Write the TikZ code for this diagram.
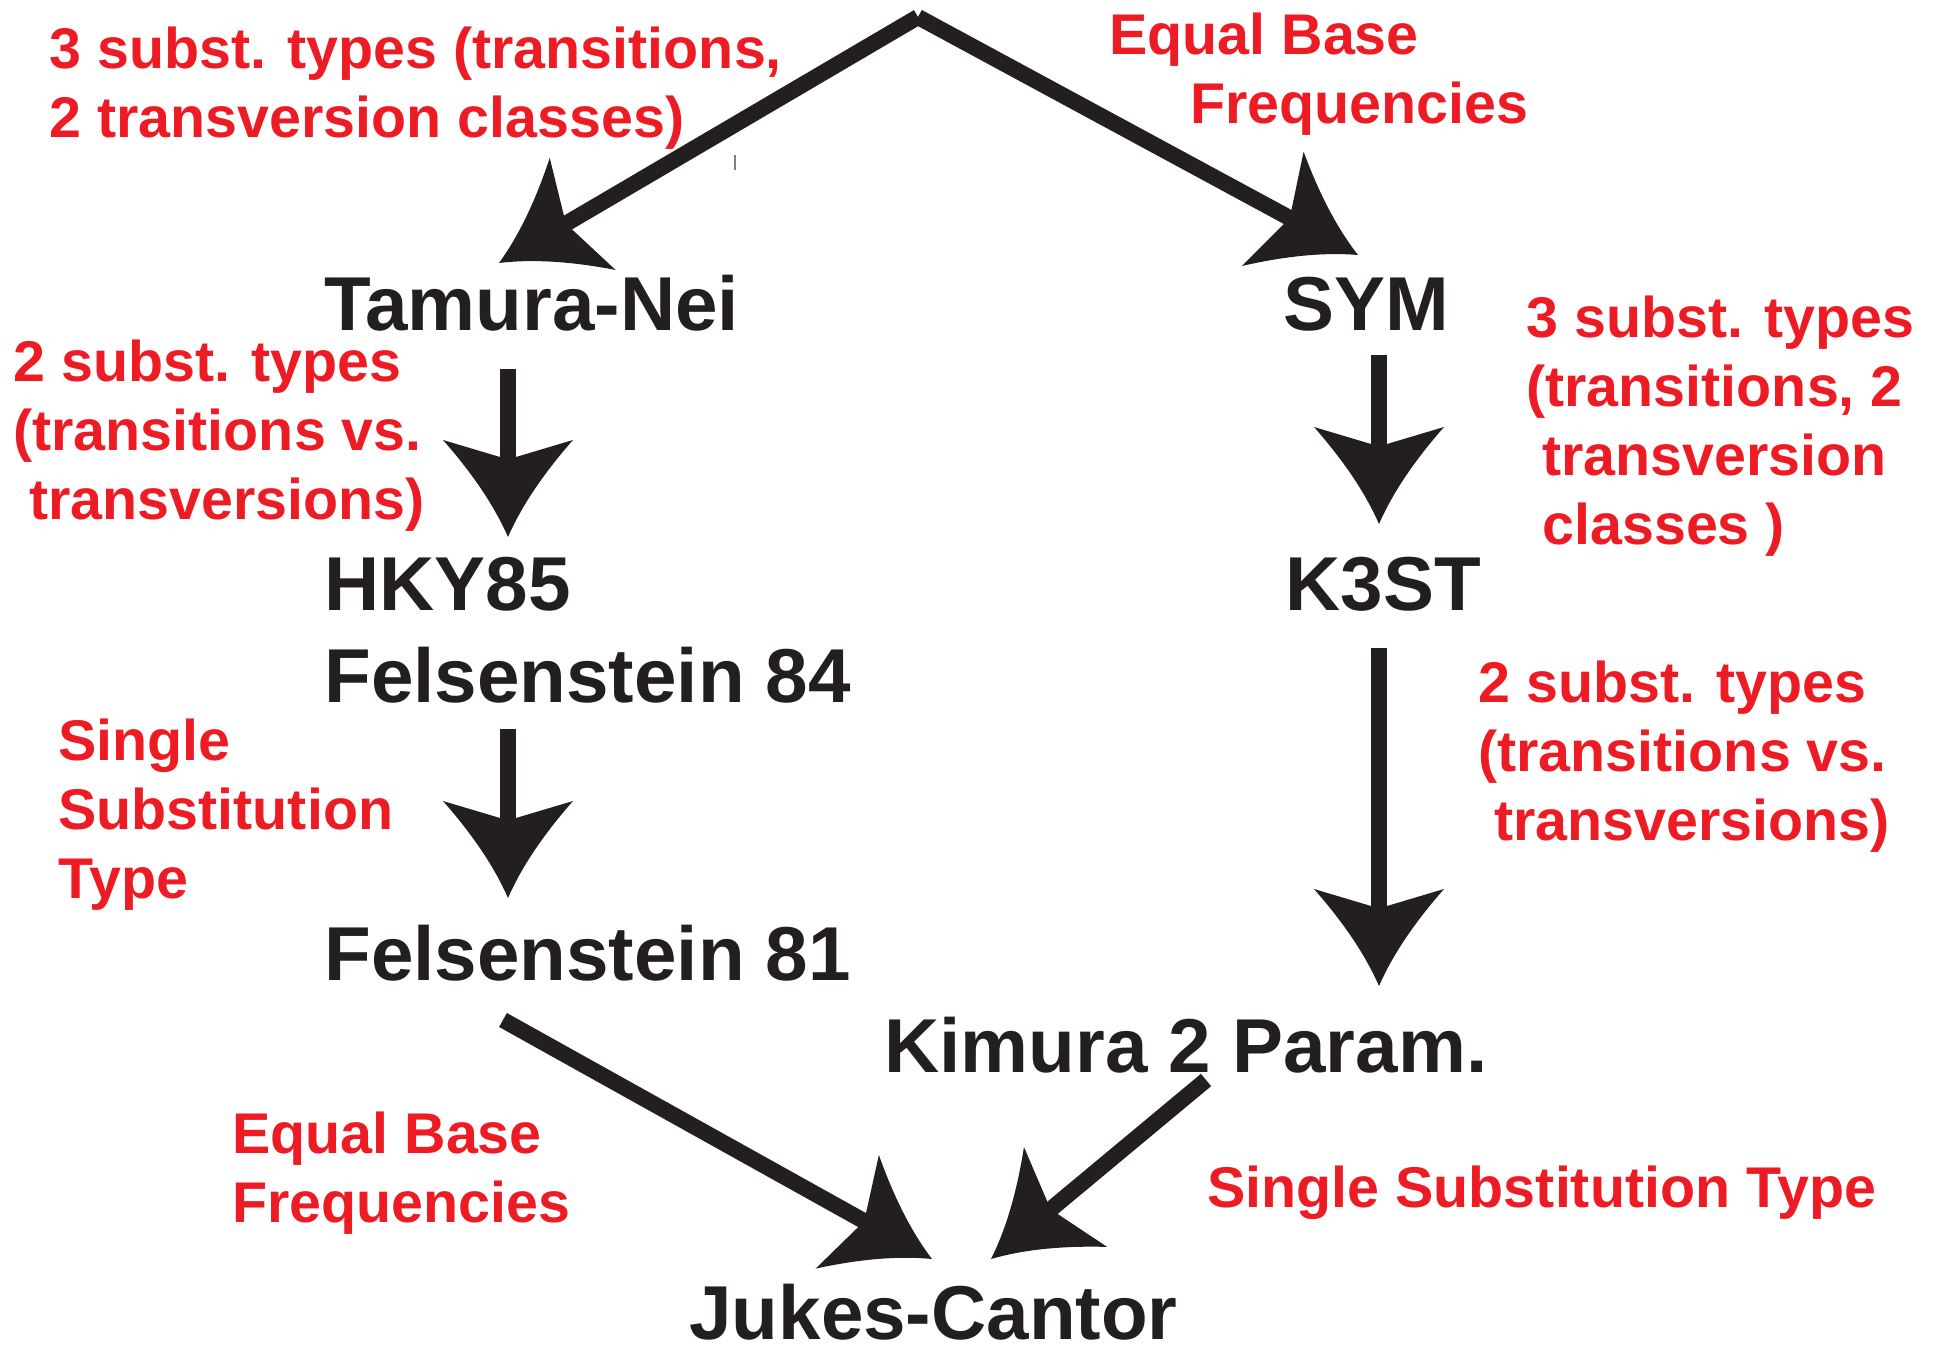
\documentclass[tikz,border=0pt]{standalone}
\usepackage{fontspec}
\setmainfont{Liberation Sans}
\usetikzlibrary{calc}

\definecolor{ink}{HTML}{231F20}
\definecolor{redink}{HTML}{ED1C24}

\newcommand{\modelfont}{\fontsize{38.2}{46}\selectfont\bfseries}
\newcommand{\notefont}{\fontsize{28.7}{34.5}\selectfont\bfseries}

% swept arrow head with hollow sides
\pgfdeclarearrow{
  name = Swoop,
  setup code = {
    \pgfarrowssettipend{0pt}
    \pgfarrowssetlineend{-38pt}
    \pgfarrowssetbackend{-48.5pt}
    \pgfarrowssetvisualbackend{-40pt}
    \pgfarrowsupperhullpoint{-48.5pt}{32.5pt}
    \pgfarrowsupperhullpoint{0pt}{0pt}
  },
  drawing code = {
    \pgfpathmoveto{\pgfpointorigin}
    \pgfpathcurveto{\pgfpoint{-16pt}{7pt}}{\pgfpoint{-32pt}{18pt}}{\pgfpoint{-48.5pt}{32.5pt}}
    \pgfpathlineto{\pgfpoint{-40pt}{4pt}}
    \pgfpathlineto{\pgfpoint{-40pt}{-4pt}}
    \pgfpathlineto{\pgfpoint{-48.5pt}{-32.5pt}}
    \pgfpathcurveto{\pgfpoint{-32pt}{-18pt}}{\pgfpoint{-16pt}{-7pt}}{\pgfpointorigin}
    \pgfpathclose
    \pgfusepathqfill
  }
}

\begin{document}
\begin{tikzpicture}[x=0.5pt, y=-0.5pt,
                    model/.style={font=\modelfont, text=ink, inner sep=0pt, anchor=base west},
                    note/.style={font=\notefont, text=redink, inner sep=0pt, anchor=base west, align=left},
                    link/.style={color=ink, line width=8pt, -Swoop}]
  \useasboundingbox (0,0) rectangle (1935,1349);

  % models
  \node[model] (tn)   at (324,330)  {Tamura-Nei};
  \node[model] (sym)  at (1283,330) {SYM};
  \node[model] (hky)  at (324,610)  {HKY85};
  \node[model] (f84)  at (324,702)  {Felsenstein 84};
  \node[model] (k3st) at (1285,610) {K3ST};
  \node[model] (f81)  at (324,980)  {Felsenstein 81};
  \node[model] (k2p)  at (884,1072) {Kimura 2 Param.};
  \node[model] (jc)   at (689,1339) {Jukes-Cantor};

  % restrictions (placed by their last line)
  \node[note] (toptn)  at (49,137)   {3 subst. types (transitions,\\2 transversion classes)};
  \node[note] (topsym) at (1109,123) {Equal Base\\\hspace*{40.5pt}Frequencies};
  \node[note] (tnhky)  at (13,519)   {2 subst. types\\(transitions vs.\\\hspace*{8pt}transversions)};
  \node[note] (f84f81) at (58,898)   {Single\\Substitution\\Type};
  \node[note] (symk3)  at (1526,544) {3 subst. types\\(transitions, 2\\\hspace*{8pt}transversion\\\hspace*{8pt}classes )};
  \node[note] (k3k2)   at (1478,840) {2 subst. types\\(transitions vs.\\\hspace*{8pt}transversions)};
  \node[note] (f81jc)  at (232,1222) {Equal Base\\Frequencies};
  \node[note] (k2jc)   at (1207,1207) {Single Substitution Type};

  % arrows
  \coordinate (top) at (918,17);
  \draw[link] (top) -- ($(tn.base west)+(175,-67)$);
  \draw[link] (top) -- ($(sym.base west)+(75,-75)$);
  \draw[link] ($(tn.base west)+(184,39)$) -- ($(hky.base west)+(184,-73)$);
  \draw[link] ($(f84.base west)+(184,27)$) -- ($(f81.base west)+(184,-82)$);
  \draw[link] ($(sym.base west)+(96,25)$) -- ($(k3st.base west)+(94,-86)$);
  \draw[link] ($(k3st.base west)+(94,38)$) -- ($(k2p.base west)+(495,-86)$);
  \draw[link] ($(f81.base west)+(179,40)$) -- ($(jc.base west)+(243,-80)$);
  \draw[link] ($(k2p.base west)+(322,8)$) -- ($(jc.base west)+(302,-80)$);

  \draw[gray, line width=1pt] (735,155) -- (735,170);
\end{tikzpicture}
\end{document}
